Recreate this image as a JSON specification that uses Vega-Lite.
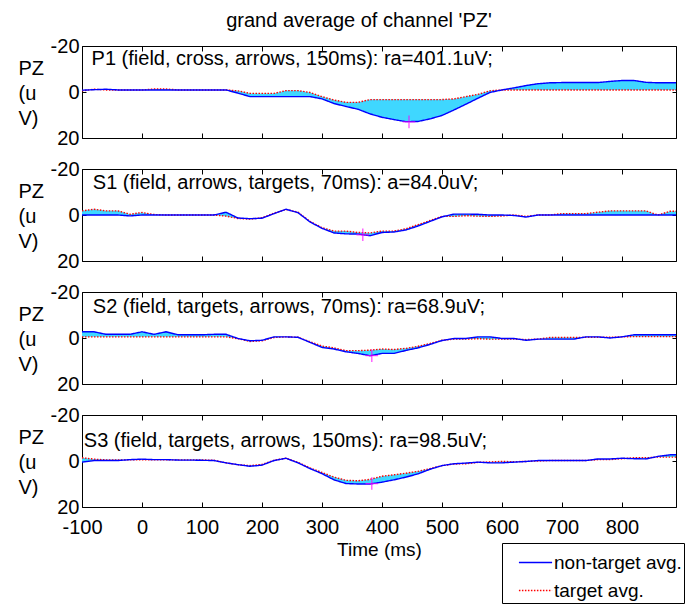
{
  "$schema": "https://vega.github.io/schema/vega-lite/v6.json",
  "autosize": {"type": "pad"},
  "padding": {"left": 17, "top": 10, "right": 0, "bottom": 0},
  "background": "white",
  "title": {"text": "grand average of channel 'PZ'", "fontSize": 20, "fontWeight": "normal", "anchor": "middle", "dx": 8, "offset": -11, "baseline": "alphabetic", "color": "#000"},
  "config": {
    "font": "Liberation Sans",
    "view": {"stroke": "#000", "strokeWidth": 1},
    "axis": {"grid": false, "domain": false, "tickColor": "#000", "labelColor": "#000", "titleColor": "#000", "labelFont": "Liberation Sans", "titleFont": "Liberation Sans", "labelFontSize": 20, "titleFontSize": 19, "titleFontWeight": "normal", "labelFlush": false, "labelExpr": "replace(datum.label, '\u2212', '-')"}
  },
  "datasets": {
    "erp": [
      {"p":"P1","t":-100,"n":-0.8,"g":-0.5},{"p":"P1","t":-80,"n":-1.0,"g":-1.2},{"p":"P1","t":-60,"n":-1.2,"g":-0.9},{"p":"P1","t":-40,"n":-0.9,"g":-0.9},{"p":"P1","t":-20,"n":-0.9,"g":-0.9},{"p":"P1","t":0,"n":-0.9,"g":-0.9},{"p":"P1","t":20,"n":-0.9,"g":-1.3},{"p":"P1","t":40,"n":-0.9,"g":-1.3},{"p":"P1","t":60,"n":-0.9,"g":-0.9},{"p":"P1","t":80,"n":-0.9,"g":-0.9},{"p":"P1","t":100,"n":-0.9,"g":-0.9},{"p":"P1","t":120,"n":-0.9,"g":-0.9},{"p":"P1","t":140,"n":-0.9,"g":-0.9},{"p":"P1","t":160,"n":0.5,"g":-0.5},{"p":"P1","t":180,"n":2.0,"g":0.6},{"p":"P1","t":200,"n":2.0,"g":0.6},{"p":"P1","t":220,"n":2.0,"g":0.6},{"p":"P1","t":240,"n":2.0,"g":-0.6},{"p":"P1","t":260,"n":2.0,"g":-0.6},{"p":"P1","t":280,"n":2.0,"g":0.2},{"p":"P1","t":300,"n":3.0,"g":2.0},{"p":"P1","t":320,"n":5.0,"g":3.5},{"p":"P1","t":340,"n":6.3,"g":4.5},{"p":"P1","t":360,"n":7.5,"g":4.5},{"p":"P1","t":380,"n":9.5,"g":3.3},{"p":"P1","t":400,"n":11.0,"g":3.3},{"p":"P1","t":420,"n":12.0,"g":3.3},{"p":"P1","t":440,"n":12.9,"g":3.3},{"p":"P1","t":460,"n":12.8,"g":3.3},{"p":"P1","t":480,"n":11.7,"g":3.3},{"p":"P1","t":500,"n":10.2,"g":3.3},{"p":"P1","t":520,"n":7.8,"g":3.0},{"p":"P1","t":540,"n":5.3,"g":2.0},{"p":"P1","t":560,"n":2.7,"g":1.0},{"p":"P1","t":580,"n":0.2,"g":-0.5},{"p":"P1","t":600,"n":-0.9,"g":-0.9},{"p":"P1","t":620,"n":-1.8,"g":-0.9},{"p":"P1","t":640,"n":-2.8,"g":-0.9},{"p":"P1","t":660,"n":-3.6,"g":-0.9},{"p":"P1","t":680,"n":-4.0,"g":-0.9},{"p":"P1","t":700,"n":-4.1,"g":-0.9},{"p":"P1","t":720,"n":-4.1,"g":-0.9},{"p":"P1","t":740,"n":-4.1,"g":-0.9},{"p":"P1","t":760,"n":-4.1,"g":-0.9},{"p":"P1","t":780,"n":-4.6,"g":-0.9},{"p":"P1","t":800,"n":-5.0,"g":-0.9},{"p":"P1","t":820,"n":-5.0,"g":-0.9},{"p":"P1","t":840,"n":-4.2,"g":-0.9},{"p":"P1","t":860,"n":-4.0,"g":-0.9},{"p":"P1","t":880,"n":-4.0,"g":-0.9},{"p":"P1","t":890,"n":-4.0,"g":-0.9},
      {"p":"S1","t":-100,"n":0,"g":-1.8},{"p":"S1","t":-80,"n":0,"g":-2.5},{"p":"S1","t":-60,"n":0,"g":-1.8},{"p":"S1","t":-40,"n":0,"g":-1.8},{"p":"S1","t":-20,"n":0.4,"g":-0.3},{"p":"S1","t":0,"n":0,"g":-1.1},{"p":"S1","t":20,"n":0,"g":-0.2},{"p":"S1","t":40,"n":0,"g":0},{"p":"S1","t":60,"n":0,"g":0},{"p":"S1","t":80,"n":0,"g":0},{"p":"S1","t":100,"n":0,"g":0},{"p":"S1","t":120,"n":0,"g":0},{"p":"S1","t":140,"n":-1.2,"g":0.5},{"p":"S1","t":160,"n":1.3,"g":1.5},{"p":"S1","t":180,"n":1.6,"g":1.8},{"p":"S1","t":200,"n":1.4,"g":1.2},{"p":"S1","t":220,"n":-0.6,"g":-0.8},{"p":"S1","t":240,"n":-2.5,"g":-2.4},{"p":"S1","t":260,"n":-1.0,"g":-1.2},{"p":"S1","t":280,"n":3.0,"g":2.8},{"p":"S1","t":300,"n":5.8,"g":5.5},{"p":"S1","t":320,"n":7.8,"g":7.0},{"p":"S1","t":340,"n":8.2,"g":7.0},{"p":"S1","t":360,"n":8.3,"g":7.6},{"p":"S1","t":380,"n":9.0,"g":7.8},{"p":"S1","t":400,"n":7.6,"g":7.0},{"p":"S1","t":420,"n":7.4,"g":7.0},{"p":"S1","t":440,"n":6.5,"g":6.0},{"p":"S1","t":460,"n":4.8,"g":4.2},{"p":"S1","t":480,"n":2.8,"g":2.4},{"p":"S1","t":500,"n":0.8,"g":0.6},{"p":"S1","t":520,"n":-0.4,"g":0.6},{"p":"S1","t":540,"n":-0.4,"g":0.3},{"p":"S1","t":560,"n":-0.3,"g":0.5},{"p":"S1","t":580,"n":0,"g":0.6},{"p":"S1","t":600,"n":0,"g":0.4},{"p":"S1","t":620,"n":0.2,"g":0},{"p":"S1","t":640,"n":0.9,"g":0.6},{"p":"S1","t":660,"n":0,"g":0},{"p":"S1","t":680,"n":0,"g":0},{"p":"S1","t":700,"n":0,"g":-0.6},{"p":"S1","t":720,"n":0,"g":-0.6},{"p":"S1","t":740,"n":0,"g":-0.6},{"p":"S1","t":760,"n":0,"g":-1.2},{"p":"S1","t":780,"n":0,"g":-1.8},{"p":"S1","t":800,"n":0,"g":-1.8},{"p":"S1","t":820,"n":0,"g":-1.8},{"p":"S1","t":840,"n":0,"g":-1.8},{"p":"S1","t":860,"n":0,"g":0},{"p":"S1","t":880,"n":0,"g":-1.6},{"p":"S1","t":890,"n":0,"g":-1.6},
      {"p":"S2","t":-100,"n":-2.7,"g":-0.5},{"p":"S2","t":-80,"n":-2.7,"g":-0.5},{"p":"S2","t":-60,"n":-1.6,"g":-0.5},{"p":"S2","t":-40,"n":-1.6,"g":-0.5},{"p":"S2","t":-20,"n":-1.6,"g":-0.5},{"p":"S2","t":0,"n":-2.7,"g":-0.5},{"p":"S2","t":20,"n":-1.6,"g":-0.5},{"p":"S2","t":40,"n":-2.7,"g":-0.5},{"p":"S2","t":60,"n":-1.4,"g":-0.5},{"p":"S2","t":80,"n":-1.4,"g":-0.5},{"p":"S2","t":100,"n":-1.4,"g":-0.5},{"p":"S2","t":120,"n":-1.6,"g":-0.5},{"p":"S2","t":140,"n":-1.6,"g":-0.5},{"p":"S2","t":160,"n":0.2,"g":0.3},{"p":"S2","t":180,"n":1.2,"g":1.5},{"p":"S2","t":200,"n":1.0,"g":1.2},{"p":"S2","t":220,"n":-0.5,"g":-0.2},{"p":"S2","t":240,"n":-0.5,"g":-0.5},{"p":"S2","t":260,"n":-0.3,"g":-0.3},{"p":"S2","t":280,"n":1.9,"g":1.6},{"p":"S2","t":300,"n":4.1,"g":3.5},{"p":"S2","t":320,"n":4.8,"g":4.3},{"p":"S2","t":340,"n":6.0,"g":5.5},{"p":"S2","t":360,"n":6.7,"g":5.5},{"p":"S2","t":380,"n":7.7,"g":5.3},{"p":"S2","t":400,"n":6.7,"g":4.8},{"p":"S2","t":420,"n":6.7,"g":5.0},{"p":"S2","t":440,"n":5.4,"g":4.5},{"p":"S2","t":460,"n":4.3,"g":3.6},{"p":"S2","t":480,"n":2.8,"g":2.4},{"p":"S2","t":500,"n":1.1,"g":1.0},{"p":"S2","t":520,"n":0.2,"g":0.5},{"p":"S2","t":540,"n":0.2,"g":0.5},{"p":"S2","t":560,"n":-0.5,"g":0.3},{"p":"S2","t":580,"n":-0.5,"g":0.5},{"p":"S2","t":600,"n":0.2,"g":0.5},{"p":"S2","t":620,"n":0.2,"g":0.5},{"p":"S2","t":640,"n":1.0,"g":0.7},{"p":"S2","t":660,"n":0.5,"g":0.5},{"p":"S2","t":680,"n":0.5,"g":-0.2},{"p":"S2","t":700,"n":0.5,"g":-0.2},{"p":"S2","t":720,"n":0.5,"g":-0.2},{"p":"S2","t":740,"n":-0.5,"g":-0.3},{"p":"S2","t":760,"n":-0.5,"g":-0.3},{"p":"S2","t":780,"n":0,"g":-0.3},{"p":"S2","t":800,"n":-0.5,"g":-0.5},{"p":"S2","t":820,"n":-1.4,"g":-0.6},{"p":"S2","t":840,"n":-1.4,"g":-0.6},{"p":"S2","t":860,"n":-1.4,"g":-0.6},{"p":"S2","t":880,"n":-1.4,"g":-0.6},{"p":"S2","t":890,"n":-1.4,"g":-0.6},
      {"p":"S3","t":-100,"n":0.5,"g":-1.4},{"p":"S3","t":-80,"n":-0.2,"g":-0.8},{"p":"S3","t":-60,"n":-0.2,"g":-0.5},{"p":"S3","t":-40,"n":-0.2,"g":-0.5},{"p":"S3","t":-20,"n":-0.6,"g":-0.5},{"p":"S3","t":0,"n":-0.8,"g":-0.5},{"p":"S3","t":20,"n":-0.6,"g":-0.5},{"p":"S3","t":40,"n":-0.6,"g":-0.5},{"p":"S3","t":60,"n":-0.4,"g":-0.5},{"p":"S3","t":80,"n":-0.4,"g":-0.5},{"p":"S3","t":100,"n":-0.3,"g":-0.5},{"p":"S3","t":120,"n":-0.2,"g":-0.3},{"p":"S3","t":140,"n":0.8,"g":0.8},{"p":"S3","t":160,"n":1.6,"g":1.6},{"p":"S3","t":180,"n":2.3,"g":2.0},{"p":"S3","t":200,"n":1.8,"g":1.5},{"p":"S3","t":220,"n":-0.2,"g":-0.3},{"p":"S3","t":240,"n":-1.2,"g":-1.2},{"p":"S3","t":260,"n":0.8,"g":0.6},{"p":"S3","t":280,"n":3.3,"g":3.0},{"p":"S3","t":300,"n":5.5,"g":5.0},{"p":"S3","t":320,"n":8.2,"g":7.0},{"p":"S3","t":340,"n":9.8,"g":8.4},{"p":"S3","t":360,"n":10.0,"g":8.6},{"p":"S3","t":380,"n":10.0,"g":8.0},{"p":"S3","t":400,"n":9.2,"g":6.6},{"p":"S3","t":420,"n":8.2,"g":6.0},{"p":"S3","t":440,"n":7.0,"g":5.3},{"p":"S3","t":460,"n":5.6,"g":4.5},{"p":"S3","t":480,"n":3.6,"g":3.3},{"p":"S3","t":500,"n":2.0,"g":2.0},{"p":"S3","t":520,"n":1.2,"g":1.3},{"p":"S3","t":540,"n":0.9,"g":1.2},{"p":"S3","t":560,"n":0.5,"g":0.6},{"p":"S3","t":580,"n":0.8,"g":0.4},{"p":"S3","t":600,"n":0.8,"g":0.2},{"p":"S3","t":620,"n":0.5,"g":0.3},{"p":"S3","t":640,"n":0.2,"g":0.2},{"p":"S3","t":660,"n":-0.2,"g":0},{"p":"S3","t":680,"n":-0.2,"g":-0.2},{"p":"S3","t":700,"n":-0.2,"g":-0.2},{"p":"S3","t":720,"n":-0.2,"g":-0.2},{"p":"S3","t":740,"n":-0.2,"g":-0.2},{"p":"S3","t":760,"n":-0.9,"g":-0.6},{"p":"S3","t":780,"n":-0.9,"g":-0.6},{"p":"S3","t":800,"n":-1.2,"g":-1.0},{"p":"S3","t":820,"n":-1.0,"g":-1.4},{"p":"S3","t":840,"n":-0.9,"g":-1.4},{"p":"S3","t":860,"n":-2.0,"g":-1.7},{"p":"S3","t":880,"n":-2.7,"g":-1.7},{"p":"S3","t":890,"n":-2.7,"g":-1.7}
    ],
    "peaks": [
      {"p":"P1","t":445,"v":13.0},{"p":"S1","t":368,"v":8.6},{"p":"S2","t":383,"v":7.7},{"p":"S3","t":383,"v":9.8}
    ]
  },
  "spacing": 9,
  "vconcat": [
    {
      "width": 594, "height": 92,
      "resolve": {"axis": {"x": "independent", "y": "independent"}},
      "layer": [
        {"data": {"name": "erp"}, "transform": [{"filter": "datum.p=='P1'"}],
         "mark": {"type": "area", "color": "#3fd7ff", "opacity": 1},
         "encoding": {
           "x": {"field": "t", "type": "quantitative", "scale": {"domain": [-100, 890], "nice": false, "zero": false}, "axis": {"orient": "bottom", "values": [-100,0,100,200,300,400,500,600,700,800], "labels": false, "tickSize": -5, "title": null}},
           "y": {"field": "n", "type": "quantitative", "scale": {"domain": [-20, 20], "reverse": true, "nice": false, "zero": false}, "axis": {"orient": "left", "values": [-20,0,20], "tickSize": -4, "labelPadding": 7, "labelBaseline": "middle", "title": ["PZ","(u","V)"], "titleAngle": 0, "titleAlign": "left", "titleBaseline": "alphabetic", "titleX": -64, "titleY": 28, "titleLineHeight": 25, "titleFontSize": 20}},
           "y2": {"field": "g"}
         }},
        {"data": {"name": "erp"}, "transform": [{"filter": "datum.p=='P1'"}, {"fold": ["g", "n"], "as": ["series", "v"]}],
         "mark": {"type": "line", "strokeWidth": 1.4},
         "encoding": {
           "x": {"field": "t", "type": "quantitative", "axis": {"orient": "top", "values": [-100,0,100,200,300,400,500,600,700,800], "labels": false, "tickSize": -5, "title": null}},
           "y": {"field": "v", "type": "quantitative", "axis": {"orient": "right", "values": [-20,0,20], "labels": false, "tickSize": -4, "title": null}},
           "color": {"field": "series", "type": "nominal", "scale": {"domain": ["n", "g"], "range": ["#0000ff", "#ff0000"]}, "legend": {"orient": "none", "legendX": 420, "legendY": 497, "title": null, "labelExpr": "datum.value=='n' ? 'non-target avg.\u00a0\u00a0\u00a0\u00a0\u00a0\u00a0\u00a0\u00a0\u00a0' : 'target avg.'", "labelLimit": 400, "labelFontSize": 19, "labelColor": "#000", "symbolType": "stroke", "symbolSize": 1100, "symbolStrokeWidth": 1.3, "symbolOffset": 14, "labelOffset": 1, "strokeColor": "#000", "padding": 2, "rowPadding": 0, "fillColor": "white"}},
           "strokeDash": {"field": "series", "type": "nominal", "scale": {"domain": ["n", "g"], "range": [[1, 0], [1.5, 1.5]]}, "legend": {"orient": "none", "legendX": 420, "legendY": 497, "title": null, "labelExpr": "datum.value=='n' ? 'non-target avg.\u00a0\u00a0\u00a0\u00a0\u00a0\u00a0\u00a0\u00a0\u00a0' : 'target avg.'", "labelLimit": 400, "labelFontSize": 19, "labelColor": "#000", "symbolType": "stroke", "symbolSize": 1100, "symbolStrokeWidth": 1.3, "symbolOffset": 14, "labelOffset": 1, "strokeColor": "#000", "padding": 2, "rowPadding": 0, "fillColor": "white"}}
         }},
        {"data": {"name": "peaks"}, "transform": [{"filter": "datum.p=='P1'"}],
         "mark": {"type": "point", "shape": "M-1,0H1M0,-1V1", "filled": false, "stroke": "#ff00ff", "strokeWidth": 1.3, "size": 160},
         "encoding": {"x": {"field": "t", "type": "quantitative", "axis": null}, "y": {"field": "v", "type": "quantitative", "axis": null}}},
        {"data": {"values": [{"label": "P1 (field, cross, arrows, 150ms): ra=401.1uV;"}]},
         "mark": {"type": "text", "align": "left", "baseline": "alphabetic", "fontSize": 20, "color": "#000"},
         "encoding": {"x": {"datum": -84, "type": "quantitative", "axis": null}, "y": {"datum": -11.7, "type": "quantitative", "axis": null}, "text": {"field": "label"}}}
      ]
    },
    {
      "width": 594, "height": 92,
      "resolve": {"axis": {"x": "independent", "y": "independent"}},
      "layer": [
        {"data": {"name": "erp"}, "transform": [{"filter": "datum.p=='S1'"}],
         "mark": {"type": "area", "color": "#3fd7ff", "opacity": 1},
         "encoding": {
           "x": {"field": "t", "type": "quantitative", "scale": {"domain": [-100, 890], "nice": false, "zero": false}, "axis": {"orient": "bottom", "values": [-100,0,100,200,300,400,500,600,700,800], "labels": false, "tickSize": -5, "title": null}},
           "y": {"field": "n", "type": "quantitative", "scale": {"domain": [-20, 20], "reverse": true, "nice": false, "zero": false}, "axis": {"orient": "left", "values": [-20,0,20], "tickSize": -4, "labelPadding": 7, "labelBaseline": "middle", "title": ["PZ","(u","V)"], "titleAngle": 0, "titleAlign": "left", "titleBaseline": "alphabetic", "titleX": -64, "titleY": 28, "titleLineHeight": 25, "titleFontSize": 20}},
           "y2": {"field": "g"}
         }},
        {"data": {"name": "erp"}, "transform": [{"filter": "datum.p=='S1'"}, {"fold": ["g", "n"], "as": ["series", "v"]}],
         "mark": {"type": "line", "strokeWidth": 1.4},
         "encoding": {
           "x": {"field": "t", "type": "quantitative", "axis": {"orient": "top", "values": [-100,0,100,200,300,400,500,600,700,800], "labels": false, "tickSize": -5, "title": null}},
           "y": {"field": "v", "type": "quantitative", "axis": {"orient": "right", "values": [-20,0,20], "labels": false, "tickSize": -4, "title": null}},
           "color": {"field": "series", "type": "nominal"},
           "strokeDash": {"field": "series", "type": "nominal"}
         }},
        {"data": {"name": "peaks"}, "transform": [{"filter": "datum.p=='S1'"}],
         "mark": {"type": "point", "shape": "M-1,0H1M0,-1V1", "filled": false, "stroke": "#ff00ff", "strokeWidth": 1.3, "size": 160},
         "encoding": {"x": {"field": "t", "type": "quantitative", "axis": null}, "y": {"field": "v", "type": "quantitative", "axis": null}}},
        {"data": {"values": [{"label": "S1 (field, arrows, targets, 70ms): a=84.0uV;"}]},
         "mark": {"type": "text", "align": "left", "baseline": "alphabetic", "fontSize": 20, "color": "#000"},
         "encoding": {"x": {"datum": -82, "type": "quantitative", "axis": null}, "y": {"datum": -11.3, "type": "quantitative", "axis": null}, "text": {"field": "label"}}}
      ]
    },
    {
      "width": 594, "height": 92,
      "resolve": {"axis": {"x": "independent", "y": "independent"}},
      "layer": [
        {"data": {"name": "erp"}, "transform": [{"filter": "datum.p=='S2'"}],
         "mark": {"type": "area", "color": "#3fd7ff", "opacity": 1},
         "encoding": {
           "x": {"field": "t", "type": "quantitative", "scale": {"domain": [-100, 890], "nice": false, "zero": false}, "axis": {"orient": "bottom", "values": [-100,0,100,200,300,400,500,600,700,800], "labels": false, "tickSize": -5, "title": null}},
           "y": {"field": "n", "type": "quantitative", "scale": {"domain": [-20, 20], "reverse": true, "nice": false, "zero": false}, "axis": {"orient": "left", "values": [-20,0,20], "tickSize": -4, "labelPadding": 7, "labelBaseline": "middle", "title": ["PZ","(u","V)"], "titleAngle": 0, "titleAlign": "left", "titleBaseline": "alphabetic", "titleX": -64, "titleY": 28, "titleLineHeight": 25, "titleFontSize": 20}},
           "y2": {"field": "g"}
         }},
        {"data": {"name": "erp"}, "transform": [{"filter": "datum.p=='S2'"}, {"fold": ["g", "n"], "as": ["series", "v"]}],
         "mark": {"type": "line", "strokeWidth": 1.4},
         "encoding": {
           "x": {"field": "t", "type": "quantitative", "axis": {"orient": "top", "values": [-100,0,100,200,300,400,500,600,700,800], "labels": false, "tickSize": -5, "title": null}},
           "y": {"field": "v", "type": "quantitative", "axis": {"orient": "right", "values": [-20,0,20], "labels": false, "tickSize": -4, "title": null}},
           "color": {"field": "series", "type": "nominal"},
           "strokeDash": {"field": "series", "type": "nominal"}
         }},
        {"data": {"name": "peaks"}, "transform": [{"filter": "datum.p=='S2'"}],
         "mark": {"type": "point", "shape": "M-1,0H1M0,-1V1", "filled": false, "stroke": "#ff00ff", "strokeWidth": 1.3, "size": 160},
         "encoding": {"x": {"field": "t", "type": "quantitative", "axis": null}, "y": {"field": "v", "type": "quantitative", "axis": null}}},
        {"data": {"values": [{"label": "S2 (field, targets, arrows, 70ms): ra=68.9uV;"}]},
         "mark": {"type": "text", "align": "left", "baseline": "alphabetic", "fontSize": 20, "color": "#000"},
         "encoding": {"x": {"datum": -82, "type": "quantitative", "axis": null}, "y": {"datum": -10.9, "type": "quantitative", "axis": null}, "text": {"field": "label"}}}
      ]
    },
    {
      "width": 594, "height": 92,
      "resolve": {"axis": {"x": "independent", "y": "independent"}},
      "layer": [
        {"data": {"name": "erp"}, "transform": [{"filter": "datum.p=='S3'"}],
         "mark": {"type": "area", "color": "#3fd7ff", "opacity": 1},
         "encoding": {
           "x": {"field": "t", "type": "quantitative", "scale": {"domain": [-100, 890], "nice": false, "zero": false}, "axis": {"orient": "bottom", "values": [-100,0,100,200,300,400,500,600,700,800], "labels": true, "labelPadding": 15, "tickSize": -5, "title": "Time (ms)", "titlePadding": 3}},
           "y": {"field": "n", "type": "quantitative", "scale": {"domain": [-20, 20], "reverse": true, "nice": false, "zero": false}, "axis": {"orient": "left", "values": [-20,0,20], "tickSize": -4, "labelPadding": 7, "labelBaseline": "middle", "title": ["PZ","(u","V)"], "titleAngle": 0, "titleAlign": "left", "titleBaseline": "alphabetic", "titleX": -64, "titleY": 28, "titleLineHeight": 25, "titleFontSize": 20}},
           "y2": {"field": "g"}
         }},
        {"data": {"name": "erp"}, "transform": [{"filter": "datum.p=='S3'"}, {"fold": ["g", "n"], "as": ["series", "v"]}],
         "mark": {"type": "line", "strokeWidth": 1.4},
         "encoding": {
           "x": {"field": "t", "type": "quantitative", "axis": {"orient": "top", "values": [-100,0,100,200,300,400,500,600,700,800], "labels": false, "tickSize": -5, "title": null}},
           "y": {"field": "v", "type": "quantitative", "axis": {"orient": "right", "values": [-20,0,20], "labels": false, "tickSize": -4, "title": null}},
           "color": {"field": "series", "type": "nominal"},
           "strokeDash": {"field": "series", "type": "nominal"}
         }},
        {"data": {"name": "peaks"}, "transform": [{"filter": "datum.p=='S3'"}],
         "mark": {"type": "point", "shape": "M-1,0H1M0,-1V1", "filled": false, "stroke": "#ff00ff", "strokeWidth": 1.3, "size": 160},
         "encoding": {"x": {"field": "t", "type": "quantitative", "axis": null}, "y": {"field": "v", "type": "quantitative", "axis": null}}},
        {"data": {"values": [{"label": "S3 (field, targets, arrows, 150ms): ra=98.5uV;"}]},
         "mark": {"type": "text", "align": "left", "baseline": "alphabetic", "fontSize": 20, "color": "#000"},
         "encoding": {"x": {"datum": -97, "type": "quantitative", "axis": null}, "y": {"datum": -6.2, "type": "quantitative", "axis": null}, "text": {"field": "label"}}}
      ]
    }
  ]
}
